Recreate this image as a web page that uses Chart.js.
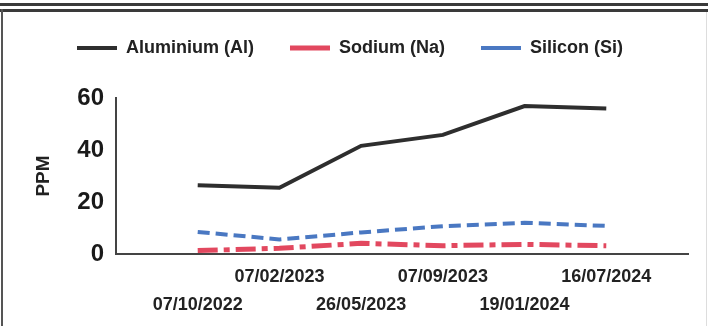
<!DOCTYPE html>
<html>
<head>
<meta charset="utf-8">
<script src="https://cdn.jsdelivr.net/npm/chart.js@4.4.1/dist/chart.umd.min.js"></script>
<style>
  html, body { margin: 0; padding: 0; background: #fff; }
  .frame { position: relative; width: 708px; height: 326px; overflow: hidden; }
  .rule1 { position: absolute; left: 0; top: 3px; width: 708px; height: 3px; background: #3a3a3a; }
  .rule2 { position: absolute; left: 0; top: 9px; width: 708px; height: 3px; background: #3a3a3a; }
  .left { position: absolute; left: 1px; top: 9px; width: 2px; height: 317px; background: #555; }
  .right { position: absolute; left: 706px; top: 12px; width: 1px; height: 314px; background: #ddd; }
  canvas { position: absolute; left: 0; top: 0; }
</style>
</head>
<body>
<div class="frame">
  <div class="rule1"></div>
  <div class="rule2"></div>
  <div class="left"></div>
  <div class="right"></div>
  <canvas id="chart" width="708" height="326"></canvas>
</div>
<script>
// sample dates (first and last slot are empty padding categories)
const dates = ['07/10/2022', '07/02/2023', '26/05/2023', '07/09/2023', '19/01/2024', '16/07/2024'];
const aluminium = [26.4, 25.5, 41.6, 45.8, 56.9, 56.0];
const sodium = [1.3, 2.2, 4.1, 3.2, 3.7, 3.2];
const silicon = [8.5, 5.6, 8.3, 10.7, 12.0, 10.8];
const yTicks = [0, 20, 40, 60];

const FONT = "'Liberation Sans', Arial, sans-serif";

// alternate labels between two rows
const labels = [''].concat(dates.map((d, i) => i % 2 === 0 ? ['', d] : [d, ''])).concat(['']);
const pad = arr => [null].concat(arr).concat([null]);

// add some room under the legend
const legendGap = {
    id: 'legendGap',
    beforeLayout(chart) {
        const lg = chart.legend;
        if (lg && !lg._gapPatched) {
            const fit = lg.fit;
            lg.fit = function() {
                fit.call(this);
                this.height += 31;
            };
            lg._gapPatched = true;
        }
    }
};

const ctx = document.getElementById('chart').getContext('2d');
new Chart(ctx, {
    type: 'line',
    data: {
        labels: labels,
        datasets: [{
            label: 'Aluminium (Al)',
            data: pad(aluminium),
            borderColor: '#2e2e2e',
            backgroundColor: '#2e2e2e',
            borderWidth: 4,
            pointRadius: 0,
            pointStyle: 'line',
            tension: 0
        },
        {
            label: 'Sodium (Na)',
            data: pad(sodium),
            borderColor: '#e2485f',
            backgroundColor: '#e2485f',
            borderWidth: 5,
            borderDash: [20, 6, 6, 6],
            pointRadius: 0,
            pointStyle: 'line',
            tension: 0
        },
        {
            label: 'Silicon (Si)',
            data: pad(silicon),
            borderColor: '#4a78c2',
            backgroundColor: '#4a78c2',
            borderWidth: 4,
            borderDash: [12, 6],
            pointRadius: 0,
            pointStyle: 'line',
            tension: 0
        }]
    },
    options: {
        responsive: false,
        animation: false,
        layout: { padding: { left: 12, right: 20, top: 3, bottom: 0 } },
        plugins: {
            legend: {
                position: 'top',
                labels: {
                    usePointStyle: true,
                    pointStyleWidth: 40,
                    boxHeight: 5,
                    padding: 36,
                    color: '#222',
                    font: { family: FONT, size: 18, weight: 'bold' }
                }
            },
            tooltip: { enabled: false }
        },
        scales: {
            x: {
                offset: false,
                grid: { display: false, drawTicks: true, tickLength: 5, tickColor: '#555', tickWidth: 2 },
                border: { display: true, color: '#444', width: 2 },
                ticks: {
                    autoSkip: false,
                    maxRotation: 0,
                    padding: 4,
                    color: '#222',
                    font: { family: FONT, size: 18, weight: 'bold', lineHeight: 1.55 }
                },
                afterFit: scale => { scale.height = 72; }
            },
            y: {
                min: 0,
                max: 60,
                afterBuildTicks: scale => { scale.ticks = yTicks.map(v => ({ value: v })); },
                grid: { display: false, drawTicks: true, tickLength: 7, tickColor: '#444', tickWidth: 2 },
                border: { display: true, color: '#444', width: 2 },
                ticks: {
                    padding: 5,
                    color: '#1a1a1a',
                    font: { family: FONT, size: 24, weight: 'bold' }
                },
                title: {
                    display: true,
                    text: 'PPM',
                    color: '#222',
                    padding: { top: 20, bottom: 0 },
                    font: { family: FONT, size: 19, weight: 'bold' }
                },
                afterFit: scale => { scale.width = 104; }
            }
        }
    },
    plugins: [legendGap]
});
</script>
</body>
</html>
